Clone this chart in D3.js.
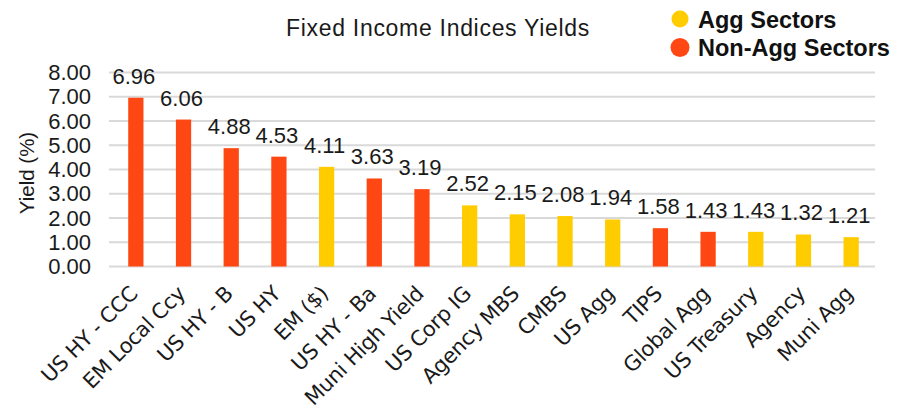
<!DOCTYPE html>
<html>
<head>
<meta charset="utf-8">
<script src="https://cdn.jsdelivr.net/npm/d3@7"></script>
<style>
  html, body { margin: 0; padding: 0; background: #fff; }
  svg { display: block; }
</style>
</head>
<body>
<svg id="chart" width="904" height="411"></svg>
<script>
const categories = ["US HY - CCC", "EM Local Ccy", "US HY - B", "US HY", "EM ($)", "US HY - Ba", "Muni High Yield", "US Corp IG", "Agency MBS", "CMBS", "US Agg", "TIPS", "Global Agg", "US Treasury", "Agency", "Muni Agg"];
const values = [6.96, 6.06, 4.88, 4.53, 4.11, 3.63, 3.19, 2.52, 2.15, 2.08, 1.94, 1.58, 1.43, 1.43, 1.32, 1.21];
const groups = ["Non-Agg", "Non-Agg", "Non-Agg", "Non-Agg", "Agg", "Non-Agg", "Non-Agg", "Agg", "Agg", "Agg", "Agg", "Non-Agg", "Non-Agg", "Agg", "Agg", "Agg"];
const yTicks = [0, 1, 2, 3, 4, 5, 6, 7, 8];
const legendLabels = ["Agg Sectors", "Non-Agg Sectors"];
const legendKeys = ["Agg", "Non-Agg"];

const colors = { "Agg": "#ffcc00", "Non-Agg": "#ff4713" };
const svg = d3.select("#chart");
const numFont = "'Liberation Sans', Arial, sans-serif";

const x = d3.scaleBand().domain(categories).range([112, 875]).paddingInner(0.68).paddingOuter(0.34);
const y = d3.scaleLinear().domain([0, 8]).range([266.5, 72.5]);

// gridlines
svg.append("g").selectAll("line").data(yTicks).join("line")
  .attr("x1", 109).attr("x2", 875)
  .attr("y1", d => y(d)).attr("y2", d => y(d))
  .attr("stroke", "#d9d9d9").attr("stroke-width", 2);

// y axis labels
const yAxis = d3.axisLeft(y).tickValues(yTicks).tickFormat(d3.format(".2f")).tickSize(0).tickPadding(0);
const yg = svg.append("g").attr("transform", "translate(91,0)").call(yAxis);
yg.select(".domain").remove();
yg.selectAll("text").attr("font-family", numFont).attr("font-size", 22).attr("fill", "#1a1a1a");

// y title
svg.append("text")
  .attr("transform", "translate(34,173) rotate(-90)")
  .attr("text-anchor", "middle")
  .attr("font-family", numFont).attr("font-size", 20.5).attr("fill", "#1a1a1a")
  .text("Yield (%)");

// bars
svg.append("g").selectAll("rect").data(values).join("rect")
  .attr("x", (d, i) => x(categories[i]))
  .attr("width", x.bandwidth())
  .attr("y", d => y(d))
  .attr("height", d => y(0) - y(d))
  .attr("fill", (d, i) => colors[groups[i]]);

// value labels
svg.append("g").selectAll("text").data(values).join("text")
  .attr("x", (d, i) => x(categories[i]) + x.bandwidth() / 2 - 2)
  .attr("y", d => y(d) - 14)
  .attr("text-anchor", "middle")
  .attr("font-family", numFont).attr("font-size", 22).attr("fill", "#1a1a1a")
  .text(d => d3.format(".2f")(d));

// x axis labels
const xAxis = d3.axisBottom(x).tickSize(0).tickPadding(0);
const xg = svg.append("g").attr("transform", "translate(0,282)").call(xAxis);
xg.select(".domain").remove();
xg.selectAll("text")
  .attr("font-family", "'DejaVu Sans', sans-serif").attr("font-size", 21).attr("letter-spacing", -0.3).attr("fill", "#1a1a1a")
  .attr("text-anchor", "end")
  .attr("dy", "0")
  .attr("y", 0)
  .attr("transform", "translate(3,13) rotate(-45)");

// title
svg.append("text")
  .attr("x", 438).attr("y", 36)
  .attr("text-anchor", "middle")
  .attr("font-family", numFont).attr("font-size", 23).attr("letter-spacing", 0.7).attr("fill", "#1a1a1a")
  .text("Fixed Income Indices Yields");

// legend
const lg = svg.append("g");
legendKeys.forEach((k, i) => {
  const cy = 19 + i * 28.5;
  lg.append("circle").attr("cx", 680).attr("cy", cy).attr("r", i === 0 ? 8.5 : 9.5).attr("fill", colors[k]);
  lg.append("text").attr("x", 698).attr("y", cy + 8.5)
    .attr("font-family", numFont).attr("font-weight", "bold").attr("font-size", 23.5).attr("fill", "#111")
    .text(legendLabels[i]);
});
</script>
</body>
</html>
